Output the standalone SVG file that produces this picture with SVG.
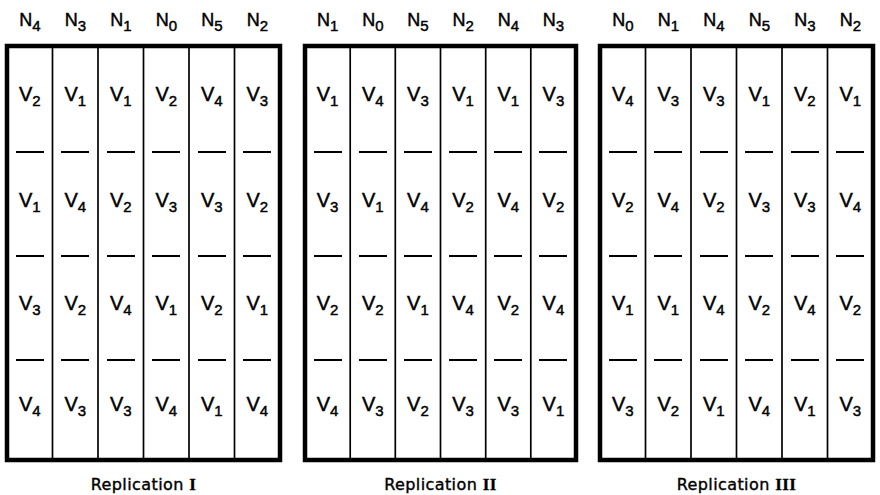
<svg xmlns="http://www.w3.org/2000/svg" width="880" height="495" viewBox="0 0 880 495">
<style>
  .frame { fill: none; stroke: #000; stroke-width: 4.5; }
  .div { stroke: #000; stroke-width: 1.7; }
  .dash { stroke: #000; stroke-width: 1.8; }
  text { font-family: "Liberation Sans", Arial, sans-serif; fill: #000; stroke: #000; stroke-width: 0.45; text-anchor: middle; }
  .n { font-size: 18px; }
  .v { font-size: 20px; }
  .s { font-size: 15px; }
  .lbl { font-family: "DejaVu Sans", "Liberation Sans", sans-serif; font-size: 16px; letter-spacing: 0.4px; stroke-width: 0.4; }
  .rn { font-family: "Liberation Serif", "Times New Roman", serif; font-weight: bold; font-size: 17px; stroke-width: 0.3; }
</style>
<rect width="880" height="495" fill="#fff"/>

<!-- Replication I -->
<g id="replication-1">
  <rect class="frame" x="7" y="46" width="273" height="414"/>
  <g class="divs">
    <line class="div" x1="52.5" y1="46" x2="52.5" y2="460"/>
    <line class="div" x1="98" y1="46" x2="98" y2="460"/>
    <line class="div" x1="143.5" y1="46" x2="143.5" y2="460"/>
    <line class="div" x1="189" y1="46" x2="189" y2="460"/>
    <line class="div" x1="234.5" y1="46" x2="234.5" y2="460"/>
  </g>
  <g id="rep1-headers">
    <text class="n" x="29.8" y="26">N<tspan class="s" dy="5">4</tspan></text>
    <text class="n" x="75.3" y="26">N<tspan class="s" dy="5">3</tspan></text>
    <text class="n" x="120.8" y="26">N<tspan class="s" dy="5">1</tspan></text>
    <text class="n" x="166.3" y="26">N<tspan class="s" dy="5">0</tspan></text>
    <text class="n" x="211.8" y="26">N<tspan class="s" dy="5">5</tspan></text>
    <text class="n" x="257.3" y="26">N<tspan class="s" dy="5">2</tspan></text>
  </g>
  <g id="rep1-row1">
    <text class="v" x="29.8" y="101">V<tspan class="s" dy="5">2</tspan></text>
    <text class="v" x="75.3" y="101">V<tspan class="s" dy="5">1</tspan></text>
    <text class="v" x="120.8" y="101">V<tspan class="s" dy="5">1</tspan></text>
    <text class="v" x="166.3" y="101">V<tspan class="s" dy="5">2</tspan></text>
    <text class="v" x="211.8" y="101">V<tspan class="s" dy="5">4</tspan></text>
    <text class="v" x="257.3" y="101">V<tspan class="s" dy="5">3</tspan></text>
  </g>
  <g id="rep1-row2">
    <text class="v" x="29.8" y="207">V<tspan class="s" dy="5">1</tspan></text>
    <text class="v" x="75.3" y="207">V<tspan class="s" dy="5">4</tspan></text>
    <text class="v" x="120.8" y="207">V<tspan class="s" dy="5">2</tspan></text>
    <text class="v" x="166.3" y="207">V<tspan class="s" dy="5">3</tspan></text>
    <text class="v" x="211.8" y="207">V<tspan class="s" dy="5">3</tspan></text>
    <text class="v" x="257.3" y="207">V<tspan class="s" dy="5">2</tspan></text>
  </g>
  <g id="rep1-row3">
    <text class="v" x="29.8" y="310">V<tspan class="s" dy="5">3</tspan></text>
    <text class="v" x="75.3" y="310">V<tspan class="s" dy="5">2</tspan></text>
    <text class="v" x="120.8" y="310">V<tspan class="s" dy="5">4</tspan></text>
    <text class="v" x="166.3" y="310">V<tspan class="s" dy="5">1</tspan></text>
    <text class="v" x="211.8" y="310">V<tspan class="s" dy="5">2</tspan></text>
    <text class="v" x="257.3" y="310">V<tspan class="s" dy="5">1</tspan></text>
  </g>
  <g id="rep1-row4">
    <text class="v" x="29.8" y="411">V<tspan class="s" dy="5">4</tspan></text>
    <text class="v" x="75.3" y="411">V<tspan class="s" dy="5">3</tspan></text>
    <text class="v" x="120.8" y="411">V<tspan class="s" dy="5">3</tspan></text>
    <text class="v" x="166.3" y="411">V<tspan class="s" dy="5">4</tspan></text>
    <text class="v" x="211.8" y="411">V<tspan class="s" dy="5">1</tspan></text>
    <text class="v" x="257.3" y="411">V<tspan class="s" dy="5">4</tspan></text>
  </g>
  <text class="lbl" x="143.5" y="490">Replication <tspan class="rn">I</tspan></text>
</g>

<!-- Replication II -->
<g id="replication-2">
  <rect class="frame" x="305" y="46" width="271" height="414"/>
  <g class="divs">
    <line class="div" x1="350.2" y1="46" x2="350.2" y2="460"/>
    <line class="div" x1="395.3" y1="46" x2="395.3" y2="460"/>
    <line class="div" x1="440.5" y1="46" x2="440.5" y2="460"/>
    <line class="div" x1="485.7" y1="46" x2="485.7" y2="460"/>
    <line class="div" x1="530.8" y1="46" x2="530.8" y2="460"/>
  </g>
  <g id="rep2-headers">
    <text class="n" x="327.6" y="26">N<tspan class="s" dy="5">1</tspan></text>
    <text class="n" x="372.8" y="26">N<tspan class="s" dy="5">0</tspan></text>
    <text class="n" x="417.9" y="26">N<tspan class="s" dy="5">5</tspan></text>
    <text class="n" x="463.1" y="26">N<tspan class="s" dy="5">2</tspan></text>
    <text class="n" x="508.3" y="26">N<tspan class="s" dy="5">4</tspan></text>
    <text class="n" x="553.4" y="26">N<tspan class="s" dy="5">3</tspan></text>
  </g>
  <g id="rep2-row1">
    <text class="v" x="327.6" y="101">V<tspan class="s" dy="5">1</tspan></text>
    <text class="v" x="372.8" y="101">V<tspan class="s" dy="5">4</tspan></text>
    <text class="v" x="417.9" y="101">V<tspan class="s" dy="5">3</tspan></text>
    <text class="v" x="463.1" y="101">V<tspan class="s" dy="5">1</tspan></text>
    <text class="v" x="508.3" y="101">V<tspan class="s" dy="5">1</tspan></text>
    <text class="v" x="553.4" y="101">V<tspan class="s" dy="5">3</tspan></text>
  </g>
  <g id="rep2-row2">
    <text class="v" x="327.6" y="207">V<tspan class="s" dy="5">3</tspan></text>
    <text class="v" x="372.8" y="207">V<tspan class="s" dy="5">1</tspan></text>
    <text class="v" x="417.9" y="207">V<tspan class="s" dy="5">4</tspan></text>
    <text class="v" x="463.1" y="207">V<tspan class="s" dy="5">2</tspan></text>
    <text class="v" x="508.3" y="207">V<tspan class="s" dy="5">4</tspan></text>
    <text class="v" x="553.4" y="207">V<tspan class="s" dy="5">2</tspan></text>
  </g>
  <g id="rep2-row3">
    <text class="v" x="327.6" y="310">V<tspan class="s" dy="5">2</tspan></text>
    <text class="v" x="372.8" y="310">V<tspan class="s" dy="5">2</tspan></text>
    <text class="v" x="417.9" y="310">V<tspan class="s" dy="5">1</tspan></text>
    <text class="v" x="463.1" y="310">V<tspan class="s" dy="5">4</tspan></text>
    <text class="v" x="508.3" y="310">V<tspan class="s" dy="5">2</tspan></text>
    <text class="v" x="553.4" y="310">V<tspan class="s" dy="5">4</tspan></text>
  </g>
  <g id="rep2-row4">
    <text class="v" x="327.6" y="411">V<tspan class="s" dy="5">4</tspan></text>
    <text class="v" x="372.8" y="411">V<tspan class="s" dy="5">3</tspan></text>
    <text class="v" x="417.9" y="411">V<tspan class="s" dy="5">2</tspan></text>
    <text class="v" x="463.1" y="411">V<tspan class="s" dy="5">3</tspan></text>
    <text class="v" x="508.3" y="411">V<tspan class="s" dy="5">3</tspan></text>
    <text class="v" x="553.4" y="411">V<tspan class="s" dy="5">1</tspan></text>
  </g>
  <text class="lbl" x="440.5" y="490">Replication <tspan class="rn">II</tspan></text>
</g>

<!-- Replication III -->
<g id="replication-3">
  <rect class="frame" x="600" y="46" width="273" height="414"/>
  <g class="divs">
    <line class="div" x1="645.5" y1="46" x2="645.5" y2="460"/>
    <line class="div" x1="691" y1="46" x2="691" y2="460"/>
    <line class="div" x1="736.5" y1="46" x2="736.5" y2="460"/>
    <line class="div" x1="782" y1="46" x2="782" y2="460"/>
    <line class="div" x1="827.5" y1="46" x2="827.5" y2="460"/>
  </g>
  <g id="rep3-headers">
    <text class="n" x="622.8" y="26">N<tspan class="s" dy="5">0</tspan></text>
    <text class="n" x="668.3" y="26">N<tspan class="s" dy="5">1</tspan></text>
    <text class="n" x="713.8" y="26">N<tspan class="s" dy="5">4</tspan></text>
    <text class="n" x="759.3" y="26">N<tspan class="s" dy="5">5</tspan></text>
    <text class="n" x="804.8" y="26">N<tspan class="s" dy="5">3</tspan></text>
    <text class="n" x="850.3" y="26">N<tspan class="s" dy="5">2</tspan></text>
  </g>
  <g id="rep3-row1">
    <text class="v" x="622.8" y="101">V<tspan class="s" dy="5">4</tspan></text>
    <text class="v" x="668.3" y="101">V<tspan class="s" dy="5">3</tspan></text>
    <text class="v" x="713.8" y="101">V<tspan class="s" dy="5">3</tspan></text>
    <text class="v" x="759.3" y="101">V<tspan class="s" dy="5">1</tspan></text>
    <text class="v" x="804.8" y="101">V<tspan class="s" dy="5">2</tspan></text>
    <text class="v" x="850.3" y="101">V<tspan class="s" dy="5">1</tspan></text>
  </g>
  <g id="rep3-row2">
    <text class="v" x="622.8" y="207">V<tspan class="s" dy="5">2</tspan></text>
    <text class="v" x="668.3" y="207">V<tspan class="s" dy="5">4</tspan></text>
    <text class="v" x="713.8" y="207">V<tspan class="s" dy="5">2</tspan></text>
    <text class="v" x="759.3" y="207">V<tspan class="s" dy="5">3</tspan></text>
    <text class="v" x="804.8" y="207">V<tspan class="s" dy="5">3</tspan></text>
    <text class="v" x="850.3" y="207">V<tspan class="s" dy="5">4</tspan></text>
  </g>
  <g id="rep3-row3">
    <text class="v" x="622.8" y="310">V<tspan class="s" dy="5">1</tspan></text>
    <text class="v" x="668.3" y="310">V<tspan class="s" dy="5">1</tspan></text>
    <text class="v" x="713.8" y="310">V<tspan class="s" dy="5">4</tspan></text>
    <text class="v" x="759.3" y="310">V<tspan class="s" dy="5">2</tspan></text>
    <text class="v" x="804.8" y="310">V<tspan class="s" dy="5">4</tspan></text>
    <text class="v" x="850.3" y="310">V<tspan class="s" dy="5">2</tspan></text>
  </g>
  <g id="rep3-row4">
    <text class="v" x="622.8" y="411">V<tspan class="s" dy="5">3</tspan></text>
    <text class="v" x="668.3" y="411">V<tspan class="s" dy="5">2</tspan></text>
    <text class="v" x="713.8" y="411">V<tspan class="s" dy="5">1</tspan></text>
    <text class="v" x="759.3" y="411">V<tspan class="s" dy="5">4</tspan></text>
    <text class="v" x="804.8" y="411">V<tspan class="s" dy="5">1</tspan></text>
    <text class="v" x="850.3" y="411">V<tspan class="s" dy="5">3</tspan></text>
  </g>
  <text class="lbl" x="736.5" y="490">Replication <tspan class="rn">III</tspan></text>
</g>

<!-- row separators -->
<g id="row-separators">
  <path class="dash" d="
    M16,152h28 M61,152h28 M107,152h28 M152,152h28 M198,152h28 M243,152h28
    M16,256h28 M61,256h28 M107,256h28 M152,256h28 M198,256h28 M243,256h28
    M16,360h28 M61,360h28 M107,360h28 M152,360h28 M198,360h28 M243,360h28
    M314,152h28 M359,152h28 M404,152h28 M449,152h28 M494,152h28 M539,152h28
    M314,256h28 M359,256h28 M404,256h28 M449,256h28 M494,256h28 M539,256h28
    M314,360h28 M359,360h28 M404,360h28 M449,360h28 M494,360h28 M539,360h28
    M609,152h28 M654,152h28 M700,152h28 M745,152h28 M791,152h28 M836,152h28
    M609,256h28 M654,256h28 M700,256h28 M745,256h28 M791,256h28 M836,256h28
    M609,360h28 M654,360h28 M700,360h28 M745,360h28 M791,360h28 M836,360h28"/>
</g>
</svg>
